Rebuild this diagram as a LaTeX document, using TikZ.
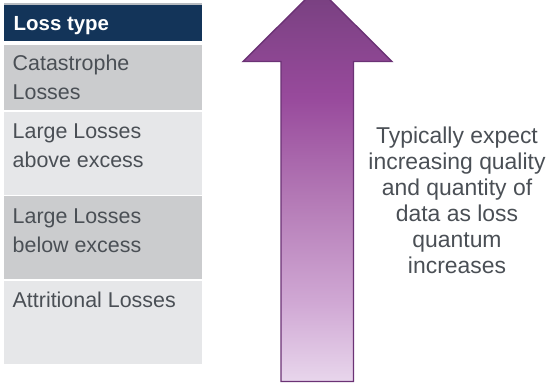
\documentclass[tikz,border=0pt]{standalone}
\usepackage{fontspec}
\setmainfont{Liberation Sans}
\definecolor{headblue}{HTML}{133459}
\definecolor{topline}{HTML}{B8BCC1}
\definecolor{rowdark}{HTML}{CBCCCE}
\definecolor{rowlight}{HTML}{E6E7E9}
\definecolor{celltxt}{HTML}{4A4F55}
\definecolor{arrowline}{HTML}{6B3275}
\definecolor{arrowtop}{HTML}{7A4182}
\definecolor{arrowpeak}{HTML}{984A9C}
\definecolor{arrowmid}{HTML}{B47AB6}
\definecolor{arrowlow}{HTML}{D0A8D4}
\definecolor{arrowbot}{HTML}{E8D6EC}
\pgfdeclareverticalshading{arrowshade}{100bp}{color(0bp)=(arrowbot); color(25bp)=(arrowbot); color(35bp)=(arrowlow); color(48bp)=(arrowmid); color(61bp)=(arrowpeak); color(73.5bp)=(arrowtop); color(100bp)=(arrowtop)}
\begin{document}
\begin{tikzpicture}[x=1bp, y=-1bp,
  cell/.style={anchor=north west, minimum width=198bp, inner sep=0pt, outer sep=0pt},
  celltext/.style={anchor=base west, inner sep=0pt, align=left, text=celltxt,
    font=\fontsize{21.5}{29}\selectfont}]
\useasboundingbox (0,0) rectangle (548,383);
\clip (0,0) rectangle (548,383);
%table
\fill[topline] (4,3.3) rectangle (202,4.8);
\node[cell, fill=headblue, minimum height=36.3bp] (head) at (4,4.7) {};
\node[cell, fill=rowdark, minimum height=65bp] (cat) at (4,45) {};
\node[cell, fill=rowlight, minimum height=82.5bp] (above) at (4,112) {};
\node[cell, fill=rowdark, minimum height=82.5bp] (below) at (4,196) {};
\node[cell, fill=rowlight, minimum height=83bp] (attr) at (4,280.5) {};
%texts (base = last line)
\node[anchor=base west, inner sep=0pt, text=white, font=\fontsize{20.5}{24}\selectfont\bfseries]
  (headtext) at (13.5,30.7) {Loss type};
\node[celltext] (cattext) at (12.5,99.7) {Catastrophe\\Losses};
\node[celltext] (abovetext) at (12.5,167) {Large Losses\\above excess};
\node[celltext] (belowtext) at (12.5,252) {Large Losses\\below excess};
\node[celltext] (attrtext) at (12.5,307) {Attritional Losses};
%arrow
\shade[shading=arrowshade, draw=arrowline, line width=1.4bp, line join=miter]
  (317.5,-12.5) -- (392,61.5) -- (353.5,61.5) -- (353.5,381.5)
  -- (281,381.5) -- (281,61.5) -- (243,61.5) -- cycle;
\node[anchor=north, inner sep=0pt, align=center, text=celltxt,
  font=\fontsize{23}{26.1}\selectfont] (note) at (457,126.5)
  {Typically expect\\increasing quality\\and quantity of\\data as loss\\quantum\\increases};
\end{tikzpicture}
\end{document}
